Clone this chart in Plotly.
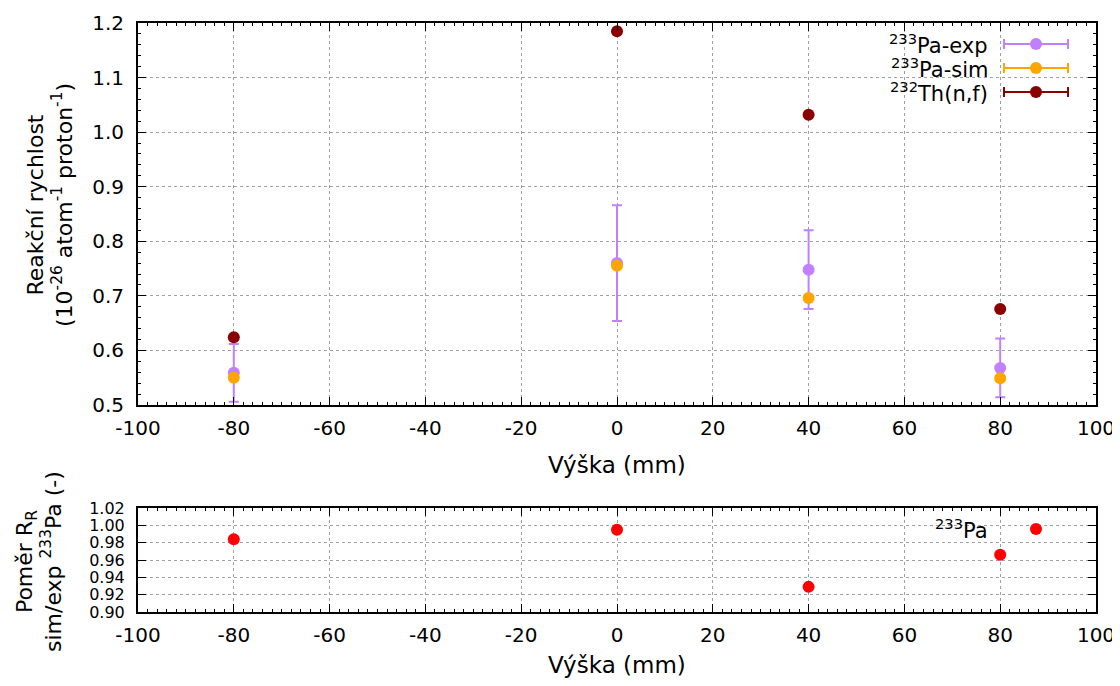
import plotly.graph_objects as go

# ---- data ----
heights = [-80, 0, 40, 80]
pa_exp = [0.559, 0.760, 0.748, 0.568]
pa_exp_err = [0.053, 0.106, 0.072, 0.054]
pa_sim = [0.550, 0.755, 0.696, 0.549]
th_nf = [0.624, 1.185, 1.032, 0.676]
ratio = [0.984, 0.995, 0.929, 0.966]

x_ticks = [-100, -80, -60, -40, -20, 0, 20, 40, 60, 80, 100]
x_ticktext = ["-100", "-80", "-60", "-40", "-20", "0", "20", "40", "60", "80", "100"]
y_ticks = [0.5, 0.6, 0.7, 0.8, 0.9, 1.0, 1.1, 1.2]
y2_ticks = [0.90, 0.92, 0.94, 0.96, 0.98, 1.00, 1.02]

C_EXP = "#c080ff"
C_SIM = "#ffa500"
C_TH = "#8b0000"
C_RAT = "#ff0000"

OFF = 8  # page body margin
W, H = 1120 - OFF, 686 - OFF
FONT = "DejaVu Sans"

def px(x):
    return (x - OFF) / W

def py(y):
    return 1 - (y - OFF) / H

fig = go.Figure()
fig.add_trace(go.Scatter(x=heights, y=pa_exp, mode="markers", name="233Pa-exp",
                         marker=dict(color=C_EXP, size=12),
                         error_y=dict(type="data", array=pa_exp_err, color=C_EXP, thickness=2, width=5),
                         xaxis="x", yaxis="y", showlegend=False))
fig.add_trace(go.Scatter(x=heights, y=pa_sim, mode="markers", name="233Pa-sim",
                         marker=dict(color=C_SIM, size=12),
                         xaxis="x", yaxis="y", showlegend=False))
fig.add_trace(go.Scatter(x=heights, y=th_nf, mode="markers", name="232Th(n,f)",
                         marker=dict(color=C_TH, size=12),
                         xaxis="x", yaxis="y", showlegend=False))
fig.add_trace(go.Scatter(x=heights, y=ratio, mode="markers", name="233Pa",
                         marker=dict(color=C_RAT, size=12),
                         xaxis="x2", yaxis="y2", showlegend=False))

axis_common = dict(
    showline=True, linecolor="black", linewidth=2, mirror="ticks",
    ticks="inside", ticklen=8, tickwidth=1, tickcolor="black",
    showgrid=True, gridcolor="#a0a0a0", griddash="dot", gridwidth=1,
    zeroline=False, automargin=False,
    tickfont=dict(family=FONT, size=20, color="black"),
)

xdom = [px(138), px(1096)]
fig.update_layout(
    width=W, height=H,
    margin=dict(l=0, r=0, t=0, b=0),
    plot_bgcolor="white", paper_bgcolor="white",
    font=dict(family=FONT, color="black"),
    xaxis=dict(domain=xdom, range=[-100, 100], tickvals=x_ticks, ticktext=x_ticktext,
               anchor="y", minor=dict(ticks="inside", ticklen=3, dtick=2, tickcolor="black"),
               ticklabelstandoff=4, **axis_common),
    yaxis=dict(domain=[py(405), py(23)], range=[0.5, 1.2], tickvals=y_ticks, tickformat=".1f",
               anchor="x", minor=dict(ticks="inside", ticklen=3, dtick=0.02, tickcolor="black"),
               ticklabelstandoff=8, **axis_common),
    xaxis2=dict(domain=xdom, range=[-100, 100], tickvals=x_ticks, ticktext=x_ticktext,
                anchor="y2", minor=dict(ticks="inside", ticklen=3, dtick=2, tickcolor="black"),
                ticklabelstandoff=4, **axis_common),
    yaxis2=dict(domain=[py(612), py(508)], range=[0.90, 1.02], tickvals=y2_ticks, tickformat=".2f",
                anchor="x2", ticklabelstandoff=8,
                **{**axis_common, "tickfont": dict(family=FONT, size=16, color="black")}),
)

# axis titles
ann = []
ann.append(dict(text="Výška (mm)", x=px(617), y=py(465), xref="paper", yref="paper",
                showarrow=False, font=dict(size=23), xanchor="center", yanchor="middle"))
ann.append(dict(text="Výška (mm)", x=px(617), y=py(665), xref="paper", yref="paper",
                showarrow=False, font=dict(size=23), xanchor="center", yanchor="middle"))
ann.append(dict(text="Reakční rychlost<br>(10<sup>-26</sup> atom<sup>-1</sup> proton<sup>-1</sup>)",
                x=px(50), y=py(205), xref="paper", yref="paper", textangle=-90,
                showarrow=False, font=dict(size=22), xanchor="center", yanchor="middle"))
ann.append(dict(text="Poměr R<sub>R</sub><br>sim/exp <sup>233</sup>Pa (-)",
                x=px(39), y=py(562), xref="paper", yref="paper", textangle=-90,
                showarrow=False, font=dict(size=22), xanchor="center", yanchor="middle"))

# manual gnuplot-style key
shapes = []
legend_rows = [("<sup>233</sup>Pa-exp", C_EXP, 44), ("<sup>233</sup>Pa-sim", C_SIM, 68),
               ("<sup>232</sup>Th(n,f)", C_TH, 92)]
for label, col, yy in legend_rows:
    ann.append(dict(text=label, x=px(990), y=py(yy), xref="paper", yref="paper",
                    showarrow=False, font=dict(size=21), xanchor="right", yanchor="middle"))
    shapes.append(dict(type="line", xref="paper", yref="paper", x0=px(1004), x1=px(1068),
                       y0=py(yy), y1=py(yy), line=dict(color=col, width=2)))
    for xc in (1004, 1068):
        shapes.append(dict(type="line", xref="paper", yref="paper", x0=px(xc), x1=px(xc),
                           y0=py(yy - 5), y1=py(yy + 5), line=dict(color=col, width=2)))
    shapes.append(dict(type="circle", xref="paper", yref="paper", x0=px(1030), x1=px(1042),
                       y0=py(yy + 6), y1=py(yy - 6), fillcolor=col, line=dict(color=col, width=0)))

ann.append(dict(text="<sup>233</sup>Pa", x=px(990), y=py(529), xref="paper", yref="paper",
                showarrow=False, font=dict(size=21), xanchor="right", yanchor="middle"))
shapes.append(dict(type="circle", xref="paper", yref="paper", x0=px(1030), x1=px(1042),
                   y0=py(535), y1=py(523), fillcolor=C_RAT, line=dict(color=C_RAT, width=0)))

fig.update_layout(annotations=ann, shapes=shapes)
fig.write_html("out.html")
